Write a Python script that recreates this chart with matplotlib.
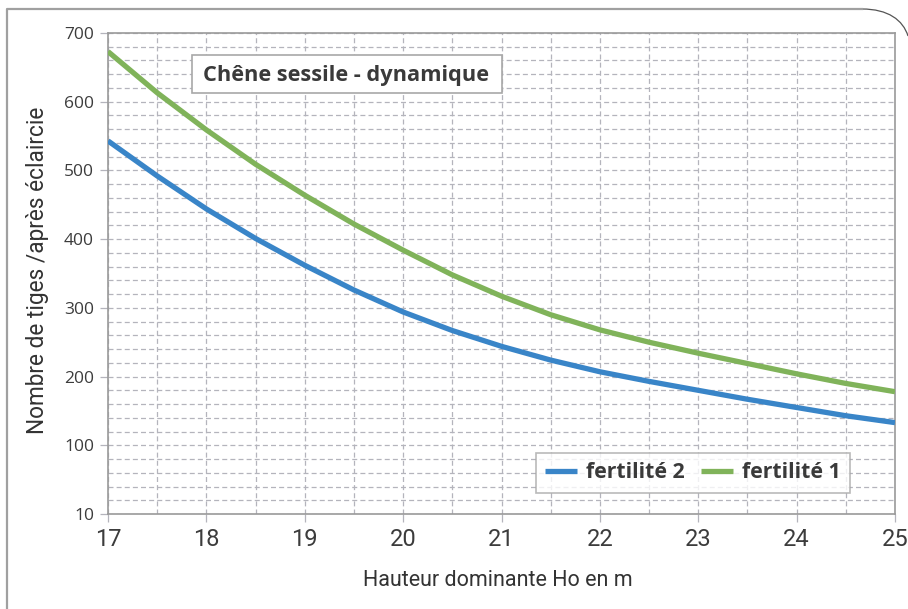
import matplotlib
matplotlib.use("Agg")
import matplotlib.pyplot as plt
from matplotlib.path import Path
from matplotlib.patches import PathPatch, Rectangle
from matplotlib.lines import Line2D
import numpy as np

plt.rcParams['font.family'] = ['Open Sans', 'DejaVu Sans']
NARROW = ['Roboto', 'Open Sans', 'DejaVu Sans']

# ---- data ----
hauteur = [17, 17.5, 18, 18.5, 19, 19.5, 20, 20.5, 21, 21.5, 22, 22.5, 23, 23.5, 24, 24.5, 25]
fertilite_1 = [673, 613, 559, 509, 464, 422, 384, 348, 317, 290, 268, 250, 234, 219, 204, 190, 178]
fertilite_2 = [543, 492, 444, 401, 362, 326, 294, 267, 244, 224, 207, 193, 180, 167, 155, 143, 133]
xticks = [17, 18, 19, 20, 21, 22, 23, 24, 25]
yticks = [0, 100, 200, 300, 400, 500, 600, 700]
ytick_labels = ['10', '100', '200', '300', '400', '500', '600', '700']
title = "Chêne sessile - dynamique"
xlabel = "Hauteur dominante Ho en m"
ylabel = "Nombre de tiges /après éclaircie"

W, H = 908, 609
fig = plt.figure(figsize=(W / 100, H / 100), dpi=100)

def fp(x, y):
    return (x / W, 1 - y / H)

# outer frame with curved corner
frame_verts = [fp(7, 609), fp(7, 9), fp(862, 9)]
fig.add_artist(Line2D([v[0] for v in frame_verts], [v[1] for v in frame_verts],
                      transform=fig.transFigure, color='#a0a0a0', lw=1.6))
curve = Path([fp(862, 9), fp(888, 9), fp(903, 20), fp(908, 36)],
             [Path.MOVETO, Path.CURVE4, Path.CURVE4, Path.CURVE4])
fig.add_artist(PathPatch(curve, transform=fig.transFigure, fill=False,
                         edgecolor='#555555', lw=0.9))

left, right, top, bottom = 108, 895, 33, 514
ax = fig.add_axes([left / W, 1 - bottom / H, (right - left) / W, (bottom - top) / H])

c_f2 = '#3985c8'
c_f1 = '#80b35a'
ax.plot(hauteur, fertilite_2, color=c_f2, lw=3.8, solid_capstyle='butt',
        solid_joinstyle='round', label='fertilité 2', zorder=3)
ax.plot(hauteur, fertilite_1, color=c_f1, lw=3.8, solid_capstyle='butt',
        solid_joinstyle='round', label='fertilité 1', zorder=3)

ax.set_xlim(17, 25)
ax.set_ylim(0, 700)
ax.set_xticks(xticks)
ax.set_yticks(yticks)
ax.set_yticklabels(ytick_labels)
ax.set_xticks(np.arange(17, 25.01, 0.5), minor=True)
ax.set_yticks(np.arange(0, 700.1, 20), minor=True)

gridkw = dict(color='#b4b4bc', linestyle=(0, (4, 2.5)), linewidth=0.9)
ax.grid(True, which='both', **gridkw)
ax.set_axisbelow(True)

for s in ax.spines.values():
    s.set_color('#9a9a9a')
    s.set_linewidth(1.2)

ax.tick_params(axis='both', which='major', length=6, color='#b4b4bc', width=0.9)
ax.tick_params(axis='both', which='minor', length=0)
ax.tick_params(axis='x', labelsize=17, labelcolor='#3c3c3c', pad=4)
ax.tick_params(axis='y', labelsize=12.5, labelcolor='#3c3c3c', pad=4)
for lab in ax.get_xticklabels():
    lab.set_family(NARROW)

fig.text(498 / W, 1 - 581 / H, xlabel, ha='center', va='center', fontsize=15.5,
         color='#333333', family=NARROW)
fig.text(38 / W, 1 - 270 / H, ylabel, ha='center', va='center', rotation=90, fontsize=16.3,
         color='#333333', family=NARROW)

# title box
fig.add_artist(Rectangle(fp(192, 93), (502 - 192) / W, (93 - 55) / H, transform=fig.transFigure,
                         facecolor='white', edgecolor='#a8a8a8', lw=1.2, zorder=5))
fig.text(346 / W, 1 - 75 / H, title, ha='center', va='center', fontsize=15.7, fontweight='bold',
         color='#3a3a3a', zorder=6)

leg = ax.legend(loc='lower right', bbox_to_anchor=((850 - left) / (right - left), (514 - 493) / (514 - 33)),
                ncol=2, fontsize=15.3, frameon=True, fancybox=False, handlelength=1.5,
                handletextpad=0.4, columnspacing=0.8, borderpad=0.45, borderaxespad=0)
leg.get_frame().set_edgecolor('#a8a8a8')
leg.get_frame().set_linewidth(1.2)
for t in leg.get_texts():
    t.set_fontweight('bold')
    t.set_color('#3a3a3a')

fig.savefig('out.png', dpi=100)
